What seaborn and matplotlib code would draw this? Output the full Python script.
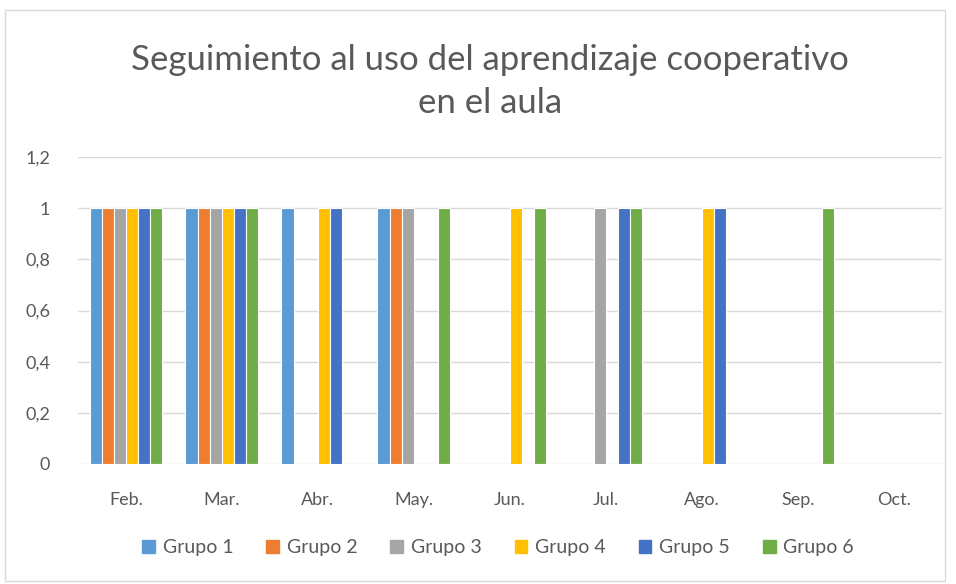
import matplotlib.pyplot as plt
import matplotlib.patches as mpatches
import seaborn as sns
import pandas as pd

# Data (1 = used that month, 0 = not used)
months = ['Feb.', 'Mar.', 'Abr.', 'May.', 'Jun.', 'Jul.', 'Ago.', 'Sep.', 'Oct.']
grupo1 = [1, 1, 1, 1, 0, 0, 0, 0, 0]
grupo2 = [1, 1, 0, 1, 0, 0, 0, 0, 0]
grupo3 = [1, 1, 0, 1, 0, 1, 0, 0, 0]
grupo4 = [1, 1, 1, 0, 1, 0, 1, 0, 0]
grupo5 = [1, 1, 1, 0, 0, 1, 1, 0, 0]
grupo6 = [1, 1, 0, 1, 1, 1, 0, 1, 0]
groups = ['Grupo 1', 'Grupo 2', 'Grupo 3', 'Grupo 4', 'Grupo 5', 'Grupo 6']
colors = ['#5B9BD5', '#ED7D31', '#A5A5A5', '#FFC000', '#4472C4', '#70AD47']

series = [grupo1, grupo2, grupo3, grupo4, grupo5, grupo6]
rows = []
for g, vals in zip(groups, series):
    for m, v in zip(months, vals):
        rows.append({'Mes': m, 'Grupo': g, 'Valor': v})
df = pd.DataFrame(rows)

sns.set_style('white')
plt.rcParams['font.family'] = ['Lato', 'DejaVu Sans']

fig = plt.figure(figsize=(9.56, 5.84), dpi=100)
ax = fig.add_axes([0.0816, 0.2055, 0.9034, 0.5255])

sns.barplot(data=df, x='Mes', y='Valor', hue='Grupo', order=months,
            hue_order=groups, palette=colors, saturation=1, width=0.76,
            ax=ax, edgecolor='white', linewidth=0.8, legend=False)

ax.set_ylim(0, 1.2)
ax.set_xlim(-0.5, len(months) - 0.5)
yt = [0, 0.2, 0.4, 0.6, 0.8, 1, 1.2]
ax.set_yticks(yt)
ax.set_yticklabels(['0', '0,2', '0,4', '0,6', '0,8', '1', '1,2'])
ax.tick_params(axis='both', length=0, labelsize=13, colors='#595959')
ax.tick_params(axis='x', pad=20)
ax.tick_params(axis='y', pad=20)
ax.yaxis.grid(True, color='#D9D9D9', linewidth=1)
ax.set_axisbelow(True)
for s in ax.spines.values():
    s.set_visible(False)
ax.set_xlabel('')
ax.set_ylabel('')

fig.suptitle('Seguimiento al uso del aprendizaje cooperativo\nen el aula',
             x=0.513, y=0.861, va='center', fontsize=25, color='#595959',
             linespacing=1.42)

handles = [mpatches.Patch(color=c, label=g) for g, c in zip(groups, colors)]
fig.legend(handles=handles, loc='center', bbox_to_anchor=(0.521, 0.062),
           ncol=6, frameon=False, fontsize=14, handlelength=0.65,
           handleheight=0.65, handletextpad=0.4, columnspacing=1.7,
           labelcolor='#595959')

# chart area border
fig.patches.append(mpatches.Rectangle((0.005, 0.005), 0.983, 0.978,
                                      transform=fig.transFigure, fill=False,
                                      edgecolor='#D9D9D9', linewidth=1))

fig.savefig('out.png', dpi=100)
